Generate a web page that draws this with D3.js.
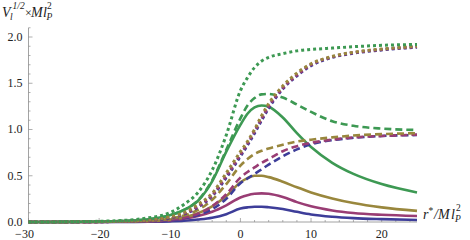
<!DOCTYPE html>
<html><head><meta charset="utf-8">
<script src="https://cdn.jsdelivr.net/npm/d3@7"></script>
<style>
body{margin:0;background:#fff;}
svg{display:block;}
svg text{font-family:"Liberation Serif","Times New Roman",Times,"DejaVu Serif",serif;}
</style></head>
<body><svg id="c" width="470" height="240"></svg>
<script>
const xs = [-30,-25,-20,-16,-13,-10,-8,-6,-4,-2,0,1,2,3,4,6,8,10,13,16,20,25];

const blueSolid    = [0,0,0.0005,0.001,0.003,0.007,0.013,0.027,0.047,0.085,0.145,0.158,0.165,0.165,0.16,0.14,0.11,0.082,0.057,0.042,0.031,0.022];
const magentaSolid = [0,0,0.001,0.003,0.007,0.018,0.035,0.065,0.11,0.18,0.265,0.29,0.305,0.31,0.305,0.27,0.215,0.17,0.125,0.097,0.078,0.065];
const oliveSolid   = [0,0,0.001,0.004,0.01,0.026,0.05,0.095,0.17,0.28,0.43,0.475,0.5,0.5,0.485,0.435,0.375,0.32,0.255,0.205,0.158,0.12];
const greenSolid   = [0,0.001,0.005,0.014,0.03,0.072,0.13,0.23,0.44,0.76,1.05,1.17,1.24,1.26,1.245,1.13,0.96,0.81,0.64,0.52,0.41,0.32];

const blueDash     = [0,0,0.002,0.004,0.009,0.02,0.04,0.075,0.14,0.25,0.42,0.47,0.52,0.57,0.62,0.71,0.785,0.84,0.885,0.91,0.93,0.94];
const magentaDash  = [0,0,0.002,0.005,0.011,0.025,0.047,0.09,0.17,0.30,0.48,0.54,0.59,0.64,0.68,0.765,0.82,0.855,0.89,0.915,0.93,0.945];
const oliveDash    = [0,0,0.003,0.007,0.015,0.035,0.07,0.13,0.24,0.41,0.61,0.68,0.735,0.77,0.795,0.835,0.87,0.89,0.915,0.935,0.95,0.96];
const greenDash    = [0,0.001,0.005,0.014,0.03,0.072,0.13,0.235,0.45,0.78,1.12,1.26,1.34,1.38,1.385,1.345,1.27,1.19,1.09,1.04,1.01,0.995];

const blueDot      = [0,0.001,0.003,0.008,0.018,0.045,0.085,0.16,0.28,0.48,0.71,0.83,0.96,1.10,1.23,1.44,1.58,1.69,1.78,1.825,1.86,1.89];
const magentaDot   = [0,0.001,0.003,0.009,0.02,0.05,0.09,0.17,0.29,0.50,0.73,0.85,0.98,1.12,1.25,1.45,1.59,1.70,1.785,1.83,1.865,1.895];
const oliveDot     = [0,0.001,0.004,0.01,0.022,0.055,0.10,0.19,0.31,0.53,0.76,0.87,1.0,1.15,1.28,1.47,1.61,1.71,1.79,1.835,1.87,1.90];
const greenDot     = [0,0.002,0.008,0.02,0.045,0.10,0.19,0.32,0.56,0.94,1.42,1.56,1.67,1.74,1.78,1.82,1.85,1.865,1.88,1.895,1.91,1.92];

const xMajor = [-30,-20,-10,0,10,20];
const yMajor = [0,0.5,1.0,1.5,2.0];

const colors = {blue:"#3d3d99", magenta:"#993d74", olive:"#99873d", green:"#3d9953"};

const series = [
  {v:blueSolid,c:"blue",s:"solid"},{v:magentaSolid,c:"magenta",s:"solid"},{v:oliveSolid,c:"olive",s:"solid"},{v:greenSolid,c:"green",s:"solid"},
  {v:blueDash,c:"blue",s:"dash"},{v:magentaDash,c:"magenta",s:"dash"},{v:oliveDash,c:"olive",s:"dash"},{v:greenDash,c:"green",s:"dash"},
  {v:blueDot,c:"blue",s:"dot"},{v:magentaDot,c:"magenta",s:"dot"},{v:oliveDot,c:"olive",s:"dot"},{v:greenDot,c:"green",s:"dot"}
];

const svg = d3.select("#c");
const x = d3.scaleLinear().domain([-30,25]).range([28.5,417]);
const y = d3.scaleLinear().domain([0,2.1]).range([222,27.75]);

const axisColor = "#8c8c8c";

// y axis
const gy = svg.append("g").attr("transform",`translate(${x(-30)},0)`);
gy.append("line").attr("y1",y(0)).attr("y2",y(2.1)).attr("stroke",axisColor).attr("stroke-width",0.8);
const yMinor = d3.range(0,2.101,0.1).filter(v=>!yMajor.some(m=>Math.abs(m-v)<1e-6));
gy.selectAll(".ym").data(yMinor).join("line").attr("x1",0).attr("x2",2).attr("y1",d=>y(d)).attr("y2",d=>y(d)).attr("stroke",axisColor).attr("stroke-width",0.7);
gy.selectAll(".yM").data(yMajor).join("line").attr("x1",0).attr("x2",4).attr("y1",d=>y(d)).attr("y2",d=>y(d)).attr("stroke",axisColor).attr("stroke-width",0.7);
gy.selectAll(".yl").data(yMajor).join("text").attr("x",-6).attr("y",d=>y(d)).attr("dy","0.33em").attr("text-anchor","end").attr("font-size",12).attr("fill","#222").text(d=>d.toFixed(1));

// x axis
const gx = svg.append("g").attr("transform",`translate(0,${y(0)})`);
gx.append("line").attr("x1",x(-30)).attr("x2",x(25)).attr("stroke",axisColor).attr("stroke-width",0.8);
const xMinor = d3.range(-30,25.01,2).filter(v=>!xMajor.includes(v));
gx.selectAll(".xm").data(xMinor).join("line").attr("x1",d=>x(d)).attr("x2",d=>x(d)).attr("y1",0).attr("y2",-2).attr("stroke",axisColor).attr("stroke-width",0.7);
gx.selectAll(".xM").data(xMajor).join("line").attr("x1",d=>x(d)).attr("x2",d=>x(d)).attr("y1",0).attr("y2",-4).attr("stroke",axisColor).attr("stroke-width",0.7);
gx.selectAll(".xl").data(xMajor).join("text").attr("x",d=>x(d)+(d===-30?-4:(d<0?1:0))).attr("y",15.5).attr("text-anchor","middle").attr("font-size",12).attr("fill","#222").text(d=>d<0?"\u2212"+Math.abs(d):d);

// curves
const line = d3.line().x((d,i)=>x(xs[i])).y(d=>y(d)).curve(d3.curveMonotoneX);
const order = [...series.filter(s=>s.s==="solid"),...series.filter(s=>s.s==="dash"),...series.filter(s=>s.s==="dot")];
svg.append("g").selectAll("path").data(order).join("path")
  .attr("d",d=>line(d.v)).attr("fill","none")
  .attr("stroke",d=>colors[d.c])
  .attr("stroke-width",d=>d.s==="dot"?3:2.6)
  .attr("stroke-dasharray",d=>d.s==="dash"?"7,4":(d.s==="dot"?"3,3":null));

// y label
const yl = svg.append("text").attr("font-size",14).attr("font-style","italic").attr("fill","#222");
yl.append("tspan").attr("x",2).attr("y",17).text("V");
yl.append("tspan").attr("x",10).attr("y",20).attr("font-size",9.5).text("l");
yl.append("tspan").attr("x",12.5).attr("y",9).attr("font-size",9.5).text("1/2");
yl.append("tspan").attr("x",25).attr("y",17).attr("font-style","normal").attr("font-size",12).text("\u00d7");
yl.append("tspan").attr("x",31).attr("y",17).text("M");
yl.append("tspan").attr("x",43).attr("y",17).text("l");
yl.append("tspan").attr("x",46.5).attr("y",20).attr("font-size",9.5).text("P");
yl.append("tspan").attr("x",47).attr("y",9).attr("font-size",9.5).attr("font-style","normal").text("2");

// x label
const xlab = svg.append("text").attr("font-size",14).attr("font-style","italic").attr("fill","#222");
xlab.append("tspan").attr("x",423).attr("y",219).text("r");
xlab.append("tspan").attr("x",428.5).attr("y",214).attr("font-size",9.5).attr("font-style","normal").text("*");
xlab.append("tspan").attr("x",434).attr("y",219).text("/M");
xlab.append("tspan").attr("x",451).attr("y",219).text("l");
xlab.append("tspan").attr("x",455).attr("y",222).attr("font-size",9.5).text("P");
xlab.append("tspan").attr("x",456).attr("y",211).attr("font-size",9.5).attr("font-style","normal").text("2");
</script></body></html>
